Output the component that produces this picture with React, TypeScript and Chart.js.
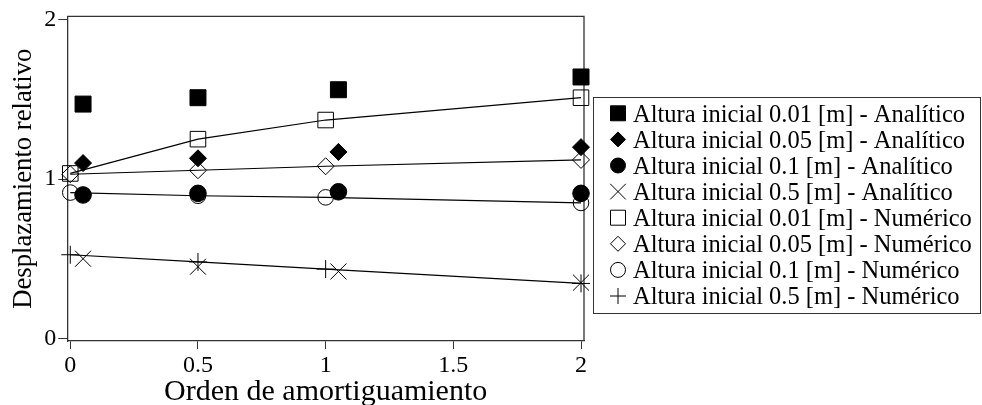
import React, { useEffect, useRef } from 'react';
import { Chart, registerables } from 'chart.js';
import { drawPoint } from 'chart.js/helpers';

Chart.register(...registerables);

// Damping order (x) for each group of points
const analyticX = [0.05, 0.5, 1.05, 2];
const numericX = [0, 0.5, 1, 2];

// Relative displacement — analytic results
const analytic001 = [1.47, 1.51, 1.56, 1.64];
const analytic005 = [1.10, 1.13, 1.17, 1.20];
const analytic01 = [0.90, 0.91, 0.92, 0.91];
const analytic05 = [0.50, 0.45, 0.42, 0.35];

// Relative displacement — numeric results
const numeric001 = [1.035, 1.25, 1.37, 1.51];
const numeric005 = [1.03, 1.055, 1.08, 1.12];
const numeric01 = [0.915, 0.895, 0.885, 0.85];
const numeric05 = [0.525, 0.48, 0.435, 0.345];

const xTicks = [0, 0.5, 1, 1.5, 2];
const yTicks = [0, 1, 2];

const seriesLabels = [
  'Altura inicial 0.01 [m] - Analítico',
  'Altura inicial 0.05 [m] - Analítico',
  'Altura inicial 0.1 [m] - Analítico',
  'Altura inicial 0.5 [m] - Analítico',
  'Altura inicial 0.01 [m] - Numérico',
  'Altura inicial 0.05 [m] - Numérico',
  'Altura inicial 0.1 [m] - Numérico',
  'Altura inicial 0.5 [m] - Numérico',
];

const FONT = "'Liberation Serif', 'Times New Roman', serif";

const toPoints = (xs: number[], ys: number[]) => ys.map((y, i) => ({ x: xs[i], y }));

const boxPlugin = {
  id: 'plotBox',
  beforeDatasetsDraw(chart: any) {
    const { ctx, chartArea } = chart;
    ctx.save();
    ctx.strokeStyle = '#333';
    ctx.lineWidth = 1.3;
    ctx.beginPath();
    ctx.moveTo(chartArea.left, chartArea.top);
    ctx.lineTo(chartArea.right, chartArea.top);
    ctx.lineTo(chartArea.right, chartArea.bottom);
    ctx.stroke();
    ctx.restore();
  },
};

const legendPlugin = {
  id: 'boxedLegend',
  afterDraw(chart: any) {
    const { ctx } = chart;
    const boxLeft = 593.5;
    const boxTop = 97.5;
    const boxW = 387;
    const boxH = 216;
    const symX = 618;
    const textX = 633;
    const firstCenter = 113.3;
    const step = 26.1;
    ctx.save();
    ctx.strokeStyle = '#333';
    ctx.lineWidth = 1;
    ctx.strokeRect(boxLeft, boxTop, boxW, boxH);
    chart.data.datasets.forEach((ds: any, i: number) => {
      const cy = firstCenter + step * i;
      ctx.save();
      ctx.fillStyle = ds.pointBackgroundColor;
      ctx.strokeStyle = ds.pointBorderColor;
      ctx.lineWidth = 1;
      drawPoint(ctx, {
        pointStyle: ds.pointStyle,
        rotation: 0,
        radius: ds.legendRadius,
        borderWidth: 1,
      } as any, symX, cy);
      ctx.restore();
      ctx.fillStyle = '#000';
      ctx.font = `24.5px "Liberation Serif", serif`;
      ctx.textBaseline = 'alphabetic';
      ctx.textAlign = 'left';
      ctx.fillText(ds.label, textX, cy + 8.4);
    });
    ctx.restore();
  },
};

export default function App() {
  const canvasRef = useRef<HTMLCanvasElement | null>(null);

  useEffect(() => {
    if (!canvasRef.current) return;
    Chart.defaults.font.family = FONT;
    Chart.defaults.color = '#000';

    const filled = (label: string, xs: number[], ys: number[], style: string, r: number, lr: number) => ({
      label,
      data: toPoints(xs, ys),
      showLine: false,
      pointStyle: style,
      pointRadius: r,
      pointHoverRadius: r,
      legendRadius: lr,
      pointBackgroundColor: '#000',
      pointBorderColor: '#000',
      pointBorderWidth: 1,
      borderColor: '#000',
      backgroundColor: '#000',
      clip: false,
    });
    const open = (label: string, xs: number[], ys: number[], style: string, r: number, lr: number) => ({
      label,
      data: toPoints(xs, ys),
      showLine: true,
      borderColor: '#000',
      borderWidth: 1.2,
      backgroundColor: 'rgba(0,0,0,0)',
      pointStyle: style,
      pointRadius: r,
      pointHoverRadius: r,
      legendRadius: lr,
      pointBackgroundColor: 'rgba(0,0,0,0)',
      pointBorderColor: '#000',
      pointBorderWidth: 1,
      clip: false,
    });

    const chart = new Chart(canvasRef.current, {
      type: 'scatter',
      data: {
        datasets: [
          filled(seriesLabels[0], analyticX, analytic001, 'rect', 11.3, 10.6),
          filled(seriesLabels[1], analyticX, analytic005, 'rectRot', 8.5, 7.5),
          filled(seriesLabels[2], analyticX, analytic01, 'circle', 8.3, 7.5),
          filled(seriesLabels[3], analyticX, analytic05, 'crossRot', 11.3, 11),
          open(seriesLabels[4], numericX, numeric001, 'rect', 11, 10.6),
          open(seriesLabels[5], numericX, numeric005, 'rectRot', 8.5, 7.5),
          open(seriesLabels[6], numericX, numeric01, 'circle', 7.8, 7.5),
          open(seriesLabels[7], numericX, numeric05, 'cross', 9, 8),
        ] as any,
      },
      options: {
        responsive: false,
        devicePixelRatio: 1,
        animation: false,
        events: [],
        layout: { padding: { left: 0, right: 398, top: 16, bottom: 0 } },
        plugins: {
          legend: { display: false },
          tooltip: { enabled: false },
        },
        scales: {
          x: {
            type: 'linear',
            position: 'bottom',
            min: -0.0117,
            max: 2.0117,
            afterBuildTicks: (s: any) => {
              s.ticks = xTicks.map((v) => ({ value: v }));
            },
            afterFit: (s: any) => {
              s.height = 64;
            },
            ticks: {
              font: { size: 24 },
              color: '#000',
              padding: 2,
              maxRotation: 0,
              autoSkip: false,
              callback: (v: any) => String(v),
            },
            grid: { drawOnChartArea: false, drawTicks: true, tickLength: 8, color: '#333', lineWidth: 1 },
            border: { display: true, color: '#333', width: 1.3 },
            title: {
              display: true,
              text: 'Orden de amortiguamiento',
              color: '#000',
              font: { size: 30, lineHeight: 0.87 },
              padding: 0,
            },
          },
          y: {
            type: 'linear',
            min: -0.016,
            max: 2.02,
            afterBuildTicks: (s: any) => {
              s.ticks = yTicks.map((v) => ({ value: v }));
            },
            afterFit: (s: any) => {
              s.width = 67.3;
            },
            ticks: {
              font: { size: 24 },
              color: '#000',
              padding: 2,
              autoSkip: false,
              callback: (v: any) => String(v),
            },
            grid: { drawOnChartArea: false, drawTicks: true, tickLength: 9, color: '#333', lineWidth: 1 },
            border: { display: true, color: '#333', width: 1.3 },
            title: {
              display: true,
              text: 'Desplazamiento relativo',
              color: '#000',
              font: { size: 26.7, lineHeight: 1.2 },
              padding: { top: 7.5, bottom: 0 },
            },
          },
        },
      } as any,
      plugins: [boxPlugin, legendPlugin],
    });

    return () => {
      chart.destroy();
    };
  }, []);

  return (
    <div style={{ position: 'fixed', left: 0, top: 0, width: 982, height: 405, background: '#fff' }}>
      <canvas ref={canvasRef} width={982} height={405} style={{ display: 'block' }} />
    </div>
  );
}
